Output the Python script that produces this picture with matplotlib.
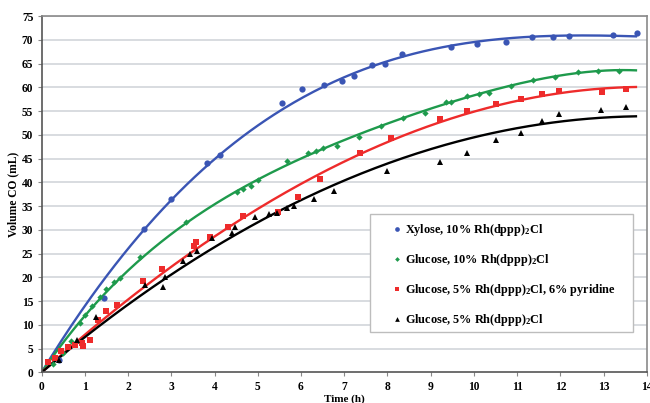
import numpy as np
import matplotlib
matplotlib.use("Agg")
import matplotlib.pyplot as plt
from matplotlib.patches import Rectangle

plt.rcParams['font.family'] = ['Liberation Serif', 'DejaVu Serif']
plt.rcParams['font.weight'] = 'bold'
plt.rcParams['mathtext.fontset'] = 'custom'
plt.rcParams['mathtext.rm'] = 'Liberation Serif:bold'
plt.rcParams['mathtext.bf'] = 'Liberation Serif:bold'
plt.rcParams['mathtext.default'] = 'bf'

# ---------------- data ----------------
xylose_x = [0.41, 1.45, 2.38, 2.99, 3.83, 4.12, 5.57, 6.02, 6.53, 6.94, 7.23, 7.65,
            7.95, 8.33, 9.47, 10.08, 10.75, 11.34, 11.82, 12.2, 13.22, 13.77]
xylose_y = [2.5, 15.7, 30.2, 36.6, 44.0, 45.7, 56.8, 59.6, 60.4, 61.3, 62.4, 64.8,
            65.0, 67.0, 68.4, 69.1, 69.5, 70.5, 70.5, 70.9, 71.0, 71.4]

glc10_x = [0.27, 0.5, 0.68, 0.88, 1.0, 1.17, 1.34, 1.5, 1.67, 1.81, 2.27, 3.33,
           4.51, 4.67, 4.84, 5.0, 5.67, 6.17, 6.35, 6.52, 6.84, 7.34, 7.85, 8.37,
           8.86, 9.35, 9.47, 9.85, 10.12, 10.35, 10.86, 11.37, 11.87, 12.42, 12.88, 13.36]
glc10_y = [1.75, 4.0, 6.7, 10.3, 12.1, 14.0, 15.8, 17.6, 19.1, 19.9, 24.2, 31.7,
           37.9, 38.5, 39.3, 40.5, 44.4, 46.1, 46.7, 47.3, 47.6, 49.6, 51.9, 53.5,
           54.7, 57.0, 57.0, 58.2, 58.7, 58.9, 60.3, 61.6, 62.2, 63.3, 63.4, 63.5]

glc5py_x = [0.15, 0.30, 0.45, 0.62, 0.78, 0.93, 0.96, 1.12, 1.31, 1.49, 1.75, 2.34,
            2.79, 3.52, 3.58, 3.89, 4.31, 4.65, 5.46, 5.94, 6.43, 7.37, 8.08, 9.22,
            9.84, 10.51, 11.1, 11.57, 11.96, 12.96, 13.53]
glc5py_y = [2.1, 3.1, 4.6, 5.4, 5.7, 6.1, 5.6, 6.9, 11.1, 13.0, 14.1, 19.3,
            21.7, 26.5, 27.4, 28.4, 30.5, 32.9, 33.7, 37.0, 40.8, 46.2, 49.3, 53.3,
            55.1, 56.6, 57.5, 58.5, 59.2, 59.1, 59.6]

glc5_x = [0.41, 0.81, 1.27, 2.39, 2.8, 2.85, 3.26, 3.43, 3.59, 3.94, 4.4, 4.47,
          4.94, 5.25, 5.44, 5.68, 5.85, 6.3, 6.76, 8.0, 9.22, 9.84, 10.51, 11.1,
          11.57, 11.96, 12.95, 13.53]
glc5_y = [2.6, 6.9, 11.6, 18.4, 17.9, 20.0, 23.5, 24.9, 25.5, 28.3, 29.3, 30.6,
          32.8, 33.4, 33.6, 34.7, 35.1, 36.4, 38.1, 42.4, 44.2, 46.1, 49.0, 50.4,
          52.9, 54.3, 55.2, 55.8]

labels = [r'Xylose, 10% Rh(dppp)$_2$Cl',
          r'Glucose, 10% Rh(dppp)$_2$Cl',
          r'Glucose, 5% Rh(dppp)$_2$Cl, 6% pyridine',
          r'Glucose, 5% Rh(dppp)$_2$Cl']
colors = ['#3a55b4', '#1e9a4c', '#ee2b2b', '#000000']
markers = ['o', 'D', 's', '^']
msizes = [4.5, 3.2, 4.5, 4.5]
fit_degrees = [3, 4, 3, 2]
xticks = list(range(0, 15))
yticks = list(range(0, 80, 5))


def trend(x, y, deg, xmax=13.75):
    x = np.asarray(x, float)
    y = np.asarray(y, float)
    A = np.vstack([x**k for k in range(1, deg + 1)]).T
    c, *_ = np.linalg.lstsq(A, y, rcond=None)
    xs = np.linspace(0, xmax, 300)
    ys = sum(ck * xs**(k + 1) for k, ck in enumerate(c))
    return xs, ys


fig = plt.figure(figsize=(6.5, 4.03), dpi=100)
ax = fig.add_axes([0.064, 0.076, 0.931, 0.884])

for gy in yticks[1:]:
    ax.axhline(gy, color='#d2d5da', lw=1.2, zorder=0)

series = [(xylose_x, xylose_y), (glc10_x, glc10_y), (glc5py_x, glc5py_y), (glc5_x, glc5_y)]
handles = []
for (sx, sy), col, mk, ms, lab, dg in zip(series, colors, markers, msizes, labels, fit_degrees):
    xs, ys = trend(sx, sy, dg)
    ax.plot(xs, ys, color=col, lw=1.7, zorder=2)
    h, = ax.plot(sx, sy, linestyle='none', marker=mk, color=col, markersize=ms,
                 markeredgewidth=0, zorder=3, label=lab)
    handles.append(h)

ax.set_xlim(0, 14)
ax.set_ylim(0, 75)
ax.set_xticks(xticks)
ax.set_yticks(yticks)
ax.tick_params(axis='both', labelsize=8.3, length=3, width=0.8, color='#888888', pad=3)
for lbl in ax.get_xticklabels() + ax.get_yticklabels():
    lbl.set_fontweight('bold')

for s in ['top', 'right']:
    ax.spines[s].set_color('#8a8a8a')
    ax.spines[s].set_linewidth(1.2)
ax.spines['left'].set_color('#555555')
ax.spines['bottom'].set_color('#555555')
ax.spines['left'].set_linewidth(1.2)
ax.spines['bottom'].set_linewidth(1.2)

ax.set_xlabel('Time (h)', fontsize=8, fontweight='bold', labelpad=1.5)
ax.set_ylabel('Volume CO (mL)', fontsize=8.3, fontweight='bold', labelpad=2)

# legend frame
ax.add_patch(Rectangle((0.5424, 0.1131), 0.4345, 0.3312, transform=ax.transAxes,
                       facecolor='white', edgecolor='#bdbdbd', lw=1.0, zorder=4))
leg = ax.legend(handles=handles, loc='upper left', bbox_to_anchor=(0.577, 0.4207),
                fontsize=8.8, frameon=False, labelspacing=1.13,
                handlelength=1.0, handletextpad=0.15, borderpad=0,
                borderaxespad=0, markerscale=0.75)
leg.set_zorder(5)
for t in leg.get_texts():
    t.set_fontweight('bold')

fig.savefig('out.png', dpi=100)
